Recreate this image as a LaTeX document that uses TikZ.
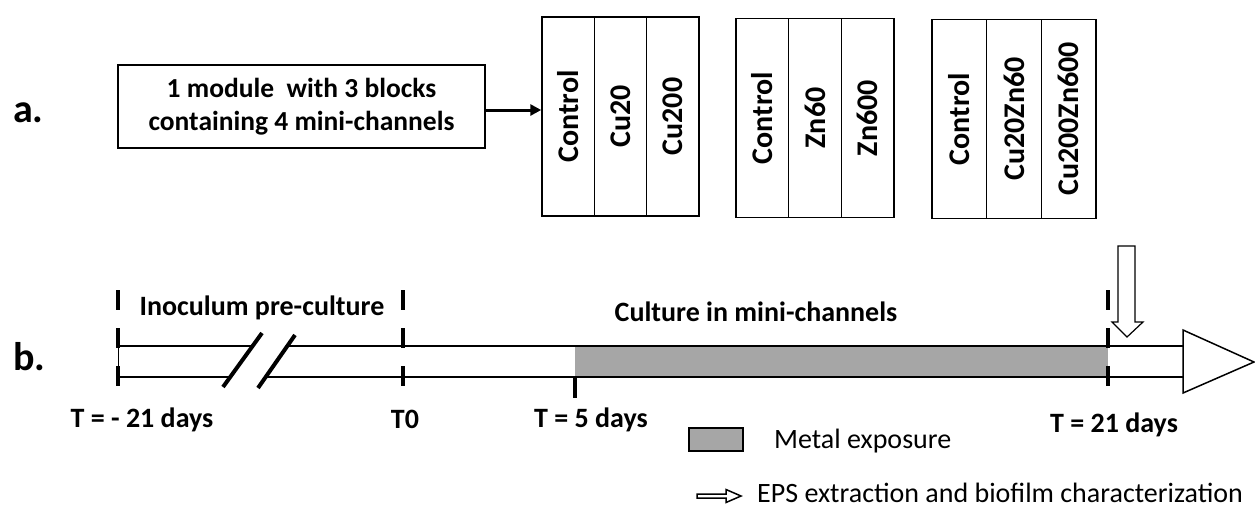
\documentclass[tikz,border=0pt]{standalone}
\usepackage{fontspec}
\setmainfont{Carlito}
\usetikzlibrary{arrows.meta}
\definecolor{metalgray}{RGB}{166,166,166}

\begin{document}
\begin{tikzpicture}[x=1pt, y=-1pt,
    modbox/.style={draw, line width=1.5pt, minimum width=367pt, minimum height=83pt,
                   align=center, inner sep=0pt, font=\fontsize{27.5}{33}\selectfont\bfseries},
    chan/.style={draw, line width=1.5pt, minimum height=199pt, inner sep=0pt,
                 font=\fontsize{30}{34}\selectfont\bfseries},
    lbl/.style={anchor=base, inner sep=0pt, font=\fontsize{28}{30}\selectfont\bfseries},
    part/.style={anchor=base west, inner sep=0pt, font=\fontsize{40}{44}\selectfont\bfseries},
    leg/.style={anchor=base west, inner sep=0pt, font=\fontsize{28}{30}\selectfont},
    arr/.style={-{Triangle[length=11pt, width=11pt]}, line width=3pt},
    tick/.style={line width=4pt, dash pattern=on 20pt off 18pt},
    band/.style={line width=1.5pt}
]
    \useasboundingbox (0,0) rectangle (1255,507);

    % a. module and its three blocks
    \node[part] (pa) at (13,122) {a.};
    \node[modbox] (module) at (301.5,106.5) {1 module\ \ with 3 blocks\\containing 4 mini-channels};
    \foreach \b/\x/\w/\y/\ta/\tb/\tc in {1/542/52.3/116.5/Control/Cu20/Cu200,
                                         2/736/52.7/118/Control/Zn60/Zn600,
                                         3/932/54.7/119/Control/Cu20Zn60/Cu200Zn600}{
        \node[chan, minimum width=\w pt] (ch\b a) at (\x+0.5*\w,\y)   {\rotatebox{90}{\ta}};
        \node[chan, minimum width=\w pt] (ch\b b) at (\x+1.5*\w,\y)   {\rotatebox{90}{\tb}};
        \node[chan, minimum width=\w pt] (ch\b c) at (\x+2.5*\w,\y)   {\rotatebox{90}{\tc}};
    }
    \draw[arr] ([yshift=-3.5pt]module.east) -- ([yshift=-3.5pt]module.east -| ch1a.west);

    % b. time line
    \node[part] (pb) at (13,370) {b.};
    \fill[metalgray] (575,346) rectangle (1108,377);
    \draw[band] (118,346) -- (1183,346) (118,377) -- (1183,377);
    \draw[line width=0.8pt] (118,346) -- (118,377);
    \fill[white] (223,387) -- (262,333) -- (295,335) -- (258,388) -- cycle;
    \draw[line width=4pt] (223,387) -- (262,333) (258,388) -- (295,335);
    \foreach \x in {118,403,1108}
        \draw[tick] (\x,290) -- (\x,388);
    \draw[line width=4pt] (575,377) -- (575,398);
    \draw[band, fill=white] (1183,330) -- (1254,362) -- (1183,393) -- cycle;
    \draw[line width=1.2pt, fill=white] (1118,246) -- (1135,246) -- (1135,322) -- (1143,322)
        -- (1127,337) -- (1112,322) -- (1118,322) -- cycle;

    \node[lbl] (inoc) at (262,315) {Inoculum pre-culture};
    \node[lbl] (cult) at (756,321) {Culture in mini-channels};
    \node[lbl] (tm21) at (142,427) {T = - 21 days};
    \node[lbl] (t0)   at (405,428) {T0};
    \node[lbl] (t5)   at (591,427) {T = 5 days};
    \node[lbl] (t21)  at (1114,432) {T = 21 days};

    % legend
    \node[draw, line width=1.2pt, fill=metalgray, minimum width=54pt, minimum height=23pt,
          inner sep=0pt] (legmetal) at (716,439.5) {};
    \node[leg] (txtmetal) at (774,448) {Metal exposure};
    \draw[line width=1.5pt, fill=white] (697,494) -- (726,494) -- (726,489.5) -- (741,496)
        -- (726,502.5) -- (726,498) -- (697,498) -- cycle;
    \node[leg] (txteps) at (757,502) {EPS extraction and biofilm characterization};
\end{tikzpicture}
\end{document}
